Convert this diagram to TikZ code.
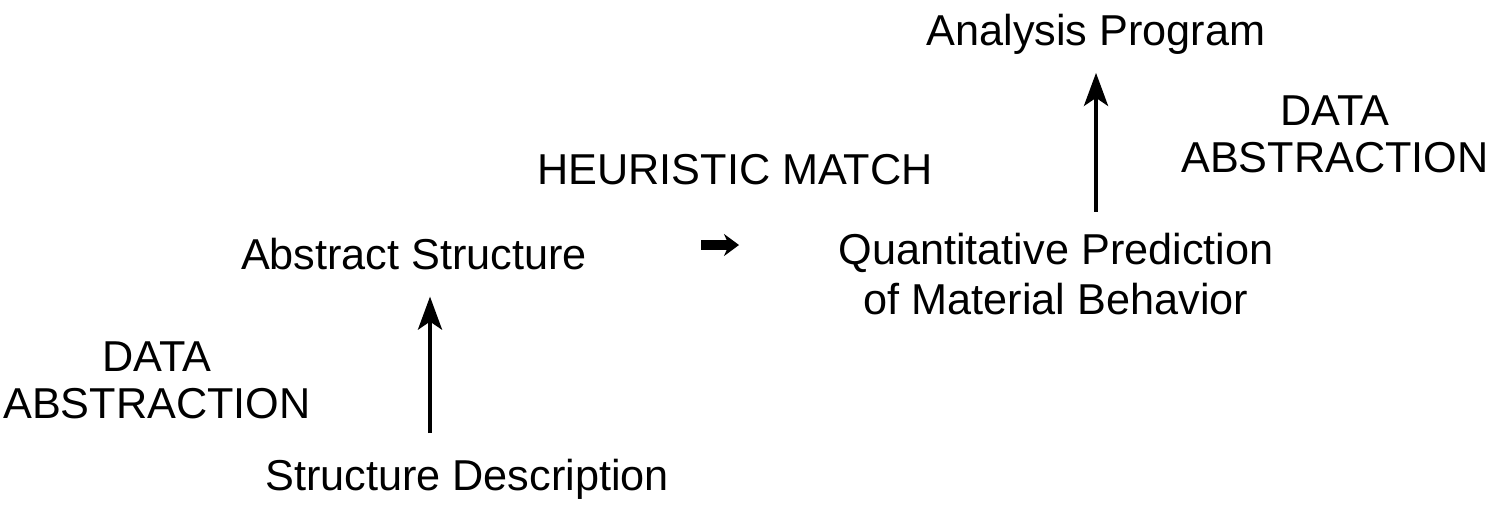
\documentclass[tikz,border=0pt]{standalone}
\usepackage{fontspec}
\setmainfont{Liberation Sans}
\usetikzlibrary{arrows.meta}

\newcommand*{\xmax}{15.11}
\newcommand*{\ymax}{5.04}

\begin{document}
\begin{tikzpicture}
[
	label/.style={font=\fontsize{12.3}{14}\selectfont,inner sep=0pt},
	caps/.style={font=\fontsize{12.3}{13.4}\selectfont,inner sep=0pt,align=center},
	uparrow/.style={-{Stealth[length=0.33cm,width=0.24cm,inset=0.08cm]},line width=1.2pt},
	matcharrow/.style={-{Stealth[length=0.15cm,width=0.22cm]},line width=3pt},
]

	\useasboundingbox (0,0) rectangle (\xmax,\ymax);

	% left part
	\node[label] (sd) at (4.67,0.25) {Structure Description};
	\node[label] (as) at (4.14,2.50) {Abstract Structure};
	\node[caps] (da1) at (1.57,1.24) {DATA\\ABSTRACTION};
	\draw[uparrow] ([yshift=0.25cm]sd.north -| 4.30,0) -- ([yshift=-0.26cm]as.south -| 4.30,0);

	% match
	\node[label] (hm) at (7.35,3.34) {HEURISTIC MATCH};
	\coordinate (m1) at (7.01,2.59);
	\coordinate (m2) at (7.39,2.59);
	\draw[matcharrow] (m1) -- (m2);

	% right part
	\node[label,align=center] (qp) at (10.56,2.30) {Quantitative Prediction\\of Material Behavior};
	\node[label] (ap) at (10.96,4.70) {Analysis Program};
	\node[caps] (da2) at (13.35,3.70) {DATA\\ABSTRACTION};
	\draw[uparrow] ([yshift=0.21cm]qp.north -| ap.south) -- ([yshift=-0.18cm]ap.south);

\end{tikzpicture}
\end{document}
